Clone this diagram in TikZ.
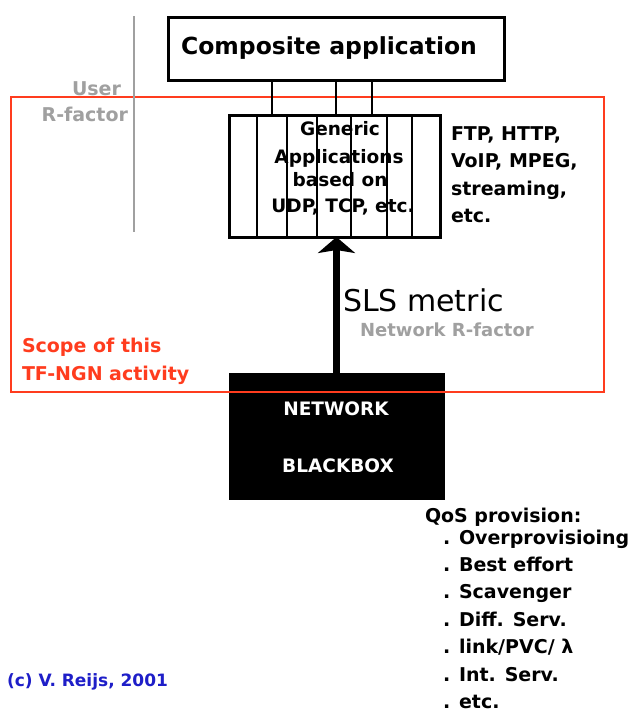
\documentclass[tikz,border=0pt]{standalone}
\usepackage{fontspec}
\setmainfont{DejaVu Sans}
\usetikzlibrary{arrows.meta}
\definecolor{scopered}{RGB}{255,60,30}
\definecolor{lgray}{RGB}{160,160,160}
\definecolor{cblue}{RGB}{30,30,200}
\newcommand{\fs}[1]{\fontsize{#1pt}{#1pt}\selectfont}
\begin{document}
\begin{tikzpicture}[x=1pt,y=-1pt,
  box/.style={draw=black,line width=3pt,outer sep=0pt,inner sep=0pt},
  txt/.style={inner sep=0pt,outer sep=0pt,font=\fs{19}\bfseries},
  gtxt/.style={txt,anchor=base,font=\fs{18.5}\bfseries},
  wtxt/.style={txt,anchor=base,text=white,font=\fs{18.5}\bfseries},
  qtxt/.style={txt,anchor=base west},
  conn/.style={line width=1.3pt}]
\useasboundingbox[fill=white] (0,0) rectangle (631,713);
% network blackbox
\node[box,fill=black,minimum width=213pt,minimum height=124pt] (bb) at (336.5,436) {};
\node[wtxt] (nw) at (336,415) {NETWORK};
\node[wtxt] (bx) at (338,472) {BLACKBOX};
% scope rectangle
\draw[scopered,line width=1.3pt] (11,97) rectangle (604,392);
% grey separator
\draw[lgray,line width=1.5pt] (134,16) -- (134,232);
% composite application
\node[box,minimum width=336pt,minimum height=63pt,font=\fs{23.5}\bfseries] (comp) at (336,48.5) {\hspace*{-14pt}Composite application};
% generic applications box
\node[box,minimum width=211pt,minimum height=122pt] (gen) at (334.5,176) {};
\foreach \dx in {28,58,88,122,158,183}
  \draw[conn] ([xshift=\dx pt]gen.north west) -- ([xshift=\dx pt]gen.south west);
\foreach \dx in {-64,0,36}
  \draw[conn] ([xshift=\dx pt]comp.south) -- ([xshift=\dx pt]comp.south |- gen.north);
\node[gtxt] (g1) at (340,135) {Generic};
\node[gtxt] (g2) at (339,163) {Applications};
\node[gtxt] (g3) at (340,186) {based on};
\node[gtxt] (g4) at (343,212) {UDP, TCP, etc.};
% protocols
\node[qtxt] (p1) at (451,140) {FTP, HTTP,};
\node[qtxt] (p2) at (451,167.5) {VoIP, MPEG,};
\node[qtxt] (p3) at (451,195) {streaming,};
\node[qtxt] (p4) at (451,222) {etc.};
% user r-factor
\node[txt,anchor=base east,text=lgray] (u1) at (121,95) {User};
\node[txt,anchor=base east,text=lgray] (u2) at (128,121) {R-factor};
% SLS arrow
\draw[line width=7.5pt,-{Stealth[width=37pt,length=16pt,inset=3pt]}] (bb.north) -- (bb.north |- gen.south);
\node[txt,anchor=base west,font=\fs{30}] (sls) at (343,311) {SLS metric};
\node[txt,anchor=base west,text=lgray,font=\fs{18}\bfseries] (nrf) at (360,336) {Network R-factor};
% scope label
\node[qtxt,text=scopered] (s1) at (22,352) {Scope of this};
\node[qtxt,text=scopered] (s2) at (22,380) {TF-NGN activity};
% QoS provision
\node[qtxt] (q0) at (425,522) {QoS provision:};
\node[qtxt] (q1) at (443,544) {. Overprovisioing};
\node[qtxt] (q2) at (443,571) {. Best effort};
\node[qtxt] (q3) at (443,598.5) {. Scavenger};
\node[qtxt] (q4) at (443,626) {. Diff. Serv.};
\node[qtxt] (q5) at (443,653.5) {. link/PVC/ λ};
\node[qtxt] (q6) at (443,681) {. Int. Serv.};
\node[qtxt] (q7) at (443,708) {. etc.};
% copyright
\node[qtxt,text=cblue,font=\fs{17}\bfseries] (cp) at (7,686) {(c) V. Reijs, 2001};
\end{tikzpicture}
\end{document}
